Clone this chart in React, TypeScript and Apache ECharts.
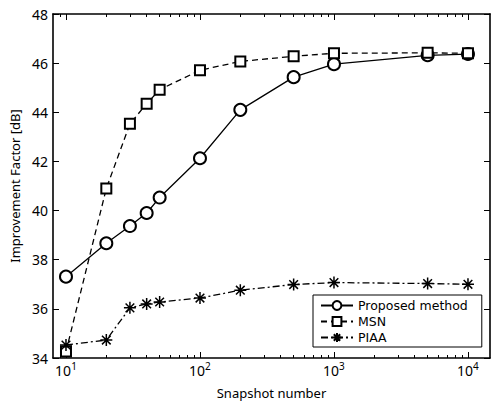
import React, { useEffect, useRef } from "react";
import * as echarts from "echarts";

const snapshots = [10, 20, 30, 40, 50, 100, 200, 500, 1000, 5000, 10000];
const proposed = [37.31, 38.67, 39.37, 39.9, 40.53, 42.13, 44.1, 45.43, 45.96, 46.32, 46.37];
const msn = [34.26, 40.9, 43.53, 44.35, 44.92, 45.71, 46.07, 46.28, 46.4, 46.42, 46.4];
const piaa = [34.53, 34.73, 36.04, 36.2, 36.28, 36.44, 36.76, 36.99, 37.07, 37.03, 37.0];
const majorTicks = [10, 100, 1000, 10000];
const minorTicks = [9, 20, 30, 40, 50, 60, 70, 80, 90, 200, 300, 400, 500, 600, 700, 800, 900, 2000, 3000, 4000, 5000, 6000, 7000, 8000, 9000];
const yTicks = [34, 36, 38, 40, 42, 44, 46, 48];

const FONT = "Noto Sans";
const LEGEND_FONT = "DejaVu Sans";
const STAR = "path://M0,-1L0,1M-1,0L1,0M-0.72,-0.72L0.72,0.72M-0.72,0.72L0.72,-0.72";

export default function App() {
  const ref = useRef<HTMLDivElement>(null);
  useEffect(() => {
    const chart = echarts.init(ref.current!, null, { renderer: "svg" });
    const X_MIN = 8;
    const X_MAX = 14600;
    const xBase = (pos: string, ticks: number[], len: number, labels: boolean, showLine: boolean) => ({
      type: "log",
      position: pos,
      min: X_MIN,
      max: X_MAX,
      logBase: 10,
      axisLine: { show: showLine, lineStyle: { color: "#000", width: 1.6 } },
      axisTick: { show: true, inside: true, length: len, customValues: ticks, lineStyle: { color: "#000", width: 1 } },
      splitLine: { show: false },
      axisLabel: labels
        ? {
            show: true,
            customValues: majorTicks,
            margin: 3,
            color: "#000",
            formatter: (v: number) => `{b|10}{s|${Math.round(Math.log10(v))}}`,
            rich: {
              b: { fontFamily: FONT, fontSize: 14, lineHeight: 16, padding: [5, 0, 0, 0], verticalAlign: "bottom", color: "#000" },
              s: { fontFamily: FONT, fontSize: 10, lineHeight: 12, verticalAlign: "top", color: "#000" },
            },
          }
        : { show: false },
    });
    const yBase = (pos: string, labels: boolean) => ({
      type: "value",
      position: pos,
      min: 34,
      max: 48,
      interval: 2,
      axisLine: { show: true, lineStyle: { color: "#000", width: 1.6 } },
      axisTick: { show: true, inside: true, length: 6, customValues: yTicks, lineStyle: { color: "#000", width: 1 } },
      splitLine: { show: false },
      axisLabel: labels
        ? { show: true, margin: 5, color: "#000", fontFamily: FONT, fontSize: 14 }
        : { show: false },
    });
    const xAxes: any[] = [
      {
        ...xBase("bottom", majorTicks, 6, true, true),
        name: "Snapshot number",
        nameLocation: "middle",
        nameGap: 35,
        nameTextStyle: { color: "#000", fontFamily: FONT, fontSize: 13, verticalAlign: "middle" },
      },
      xBase("bottom", minorTicks, 3, false, false),
      xBase("top", majorTicks, 6, false, true),
      xBase("top", minorTicks, 3, false, false),
    ];
    const yAxes: any[] = [
      {
        ...yBase("left", true),
        name: "Improvement Factor [dB]",
        nameLocation: "middle",
        nameGap: 33,
        nameRotate: 90,
        nameTextStyle: { color: "#000", fontFamily: FONT, fontSize: 13, verticalAlign: "middle" },
      },
      yBase("right", false),
    ];
    const mk = (vals: number[]) => snapshots.map((s, i) => [s, vals[i]]);
    chart.setOption({
      animation: false,
      backgroundColor: "#fff",
      grid: { left: 53, right: 2, top: 14, bottom: 49, containLabel: false },
      xAxis: xAxes,
      yAxis: yAxes,
      legend: {
        orient: "vertical",
        left: 313,
        top: 295,
        width: 177,
        backgroundColor: "#fff",
        borderColor: "#000",
        borderWidth: 1,
        borderRadius: 0,
        padding: [4, 14, 3, 7],
        itemGap: 3,
        itemWidth: 32,
        itemHeight: 11,
        textStyle: { color: "#000", fontFamily: LEGEND_FONT, fontSize: 12.5, lineHeight: 13 },
        data: ["Proposed method", "MSN", "PIAA"],
      },
      series: [
        {
          name: "Proposed method",
          type: "line",
          data: mk(proposed),
          symbol: "emptyCircle",
          symbolSize: 12,
          lineStyle: { color: "#000", width: 1.3, type: "solid" },
          itemStyle: { color: "#000", borderColor: "#000", borderWidth: 1.5 },
        },
        {
          name: "MSN",
          type: "line",
          data: mk(msn),
          symbol: "emptyRect",
          symbolSize: 10,
          lineStyle: { color: "#000", width: 1.3, type: [6, 4] },
          itemStyle: { color: "#000", borderColor: "#000", borderWidth: 1.5 },
        },
        {
          name: "PIAA",
          type: "line",
          data: mk(piaa),
          symbol: STAR,
          symbolSize: 12,
          lineStyle: { color: "#000", width: 1.3, type: [7, 3, 2, 3] },
          itemStyle: { color: "#000", borderColor: "#000", borderWidth: 1.5 },
        },
      ],
    });
    return () => chart.dispose();
  }, []);
  return <div ref={ref} style={{ position: "fixed", left: 0, top: 0, width: 492, height: 407 }} />;
}
